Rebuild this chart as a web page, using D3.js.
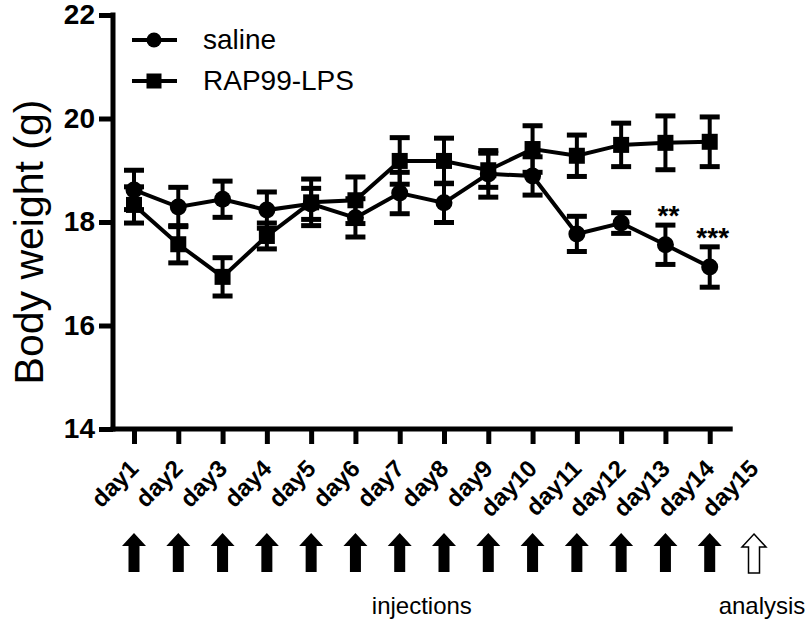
<!DOCTYPE html>
<html>
<head>
<meta charset="utf-8">
<script src="https://cdn.jsdelivr.net/npm/d3@7"></script>
<style>
  body { margin: 0; background: #fff; }
  svg { display: block; font-family: "Liberation Sans", Arial, Helvetica, sans-serif; }
</style>
</head>
<body>
<div id="chart"></div>
<script>
// Chart data
let days = ["day1", "day2", "day3", "day4", "day5", "day6", "day7", "day8",
    "day9", "day10", "day11", "day12", "day13", "day14", "day15"];
let injectionDays = [1, 2, 3, 4, 5, 6, 7, 8, 9, 10, 11, 12, 13, 14];
let analysisDay = 15;

let salineMean = [18.62, 18.29, 18.44, 18.23, 18.35, 18.08, 18.56, 18.37, 18.93, 18.89, 17.77, 17.98, 17.56, 17.13];
let salineErr = [0.38, 0.38, 0.35, 0.35, 0.30, 0.37, 0.40, 0.38, 0.45, 0.37, 0.34, 0.20, 0.38, 0.39];
let rapMean = [18.33, 17.57, 16.94, 17.73, 18.38, 18.42, 19.18, 19.18, 19.00, 19.41, 19.28, 19.49, 19.53, 19.55];
let rapErr = [0.35, 0.36, 0.37, 0.25, 0.45, 0.45, 0.45, 0.44, 0.33, 0.45, 0.40, 0.42, 0.52, 0.48];

let yTicks = [14, 16, 18, 20, 22];
let stars = [{ day: 13, text: "**" }, { day: 14, text: "***" }];

let seriesNames = ["saline", "RAP99-LPS"];

// build the series from the arrays above
let series = [
    { name: seriesNames[0], shape: "circle", values: salineMean.map(function (m, i) { return { day: i + 1, mean: m, err: salineErr[i] }; }) },
    { name: seriesNames[1], shape: "square", values: rapMean.map(function (m, i) { return { day: i + 1, mean: m, err: rapErr[i] }; }) }
];

// Set up the SVG canvas
let width = 812;
let height = 629;

let svg = d3.select("#chart").append("svg")
    .attr("width", width)
    .attr("height", height);

let x = d3.scaleLinear().domain([1, 15]).range([134, 754]);
let y = d3.scaleLinear().domain([14, 22]).range([429, 15]);
let axisLeftX = 113;

// y axis
let yAxis = svg.append("g")
    .attr("transform", "translate(" + axisLeftX + ",0)")
    .call(d3.axisLeft(y).tickValues(yTicks).tickSize(14).tickPadding(4).tickFormat(d3.format("d")));
yAxis.select(".domain").remove();
yAxis.selectAll(".tick line").attr("stroke", "#000").attr("stroke-width", 5);
yAxis.selectAll(".tick text")
    .attr("fill", "#000")
    .style("font-size", "28px")
    .style("font-weight", "bold");

// x axis (ticks only for the injection days)
let xAxis = svg.append("g")
    .attr("transform", "translate(0," + y(14) + ")")
    .call(d3.axisBottom(x).tickValues(injectionDays).tickSize(15).tickFormat(""));
xAxis.select(".domain").remove();
xAxis.selectAll(".tick line").attr("stroke", "#000").attr("stroke-width", 5);

// axis lines
svg.append("line")
    .attr("x1", axisLeftX).attr("x2", axisLeftX)
    .attr("y1", y(22) - 2.5).attr("y2", y(14) + 2.5)
    .attr("stroke", "#000").attr("stroke-width", 5);
svg.append("line")
    .attr("x1", axisLeftX - 2.5).attr("x2", x(14) + 23)
    .attr("y1", y(14)).attr("y2", y(14))
    .attr("stroke", "#000").attr("stroke-width", 5);

// rotated day labels
let labelY = 470;
svg.append("g")
    .attr("class", "day-labels")
    .selectAll("text")
    .data(days)
    .enter()
    .append("text")
    .attr("x", function (d, i) { return x(i + 1) + 6; })
    .attr("y", labelY)
    .attr("transform", function (d, i) { return "rotate(-45," + (x(i + 1) + 6) + "," + labelY + ")"; })
    .attr("text-anchor", "end")
    .attr("fill", "#000")
    .style("font-size", "24px")
    .style("font-weight", "bold")
    .text(function (d) { return d; });

// y label
svg.append("text")
    .attr("transform", "translate(43,242) rotate(-90)")
    .attr("text-anchor", "middle")
    .style("font-size", "41px")
    .text("Body weight (g)");

// series
let line = d3.line()
    .x(function (d) { return x(d.day); })
    .y(function (d) { return y(d.mean); });

function drawMarker(sel, shape, size) {
    if (shape === "circle") {
        sel.append("circle").attr("r", size / 2).attr("fill", "#000");
    } else {
        sel.append("rect")
            .attr("x", -size / 2).attr("y", -size / 2)
            .attr("width", size).attr("height", size)
            .attr("fill", "#000");
    }
}

series.forEach(function (s) {
    let g = svg.append("g").attr("class", "series");

    g.append("path")
        .datum(s.values)
        .attr("d", line)
        .attr("fill", "none")
        .attr("stroke", "#000")
        .attr("stroke-width", 4);

    let bars = g.selectAll(".err")
        .data(s.values)
        .enter()
        .append("g")
        .attr("class", "err");
    bars.append("line")
        .attr("x1", function (d) { return x(d.day); })
        .attr("x2", function (d) { return x(d.day); })
        .attr("y1", function (d) { return y(d.mean + d.err); })
        .attr("y2", function (d) { return y(d.mean - d.err); })
        .attr("stroke", "#000").attr("stroke-width", 4);
    [1, -1].forEach(function (sign) {
        bars.append("line")
            .attr("x1", function (d) { return x(d.day) - 10; })
            .attr("x2", function (d) { return x(d.day) + 10; })
            .attr("y1", function (d) { return y(d.mean + sign * d.err); })
            .attr("y2", function (d) { return y(d.mean + sign * d.err); })
            .attr("stroke", "#000").attr("stroke-width", 5);
    });

    g.selectAll(".marker")
        .data(s.values)
        .enter()
        .append("g")
        .attr("class", "marker")
        .attr("transform", function (d) { return "translate(" + x(d.day) + "," + y(d.mean) + ")"; })
        .each(function () { drawMarker(d3.select(this), s.shape, s.shape === "circle" ? 17 : 16); });
});

// significance stars above the saline bars
svg.append("g")
    .selectAll("text")
    .data(stars)
    .enter()
    .append("text")
    .attr("x", function (d) { return x(d.day) + 3; })
    .attr("y", function (d) { return y(salineMean[d.day - 1] + salineErr[d.day - 1]); })
    .attr("text-anchor", "middle")
    .style("font-size", "28px")
    .style("font-weight", "bold")
    .text(function (d) { return d.text; });

// legend
let legend = svg.append("g");
series.forEach(function (s, i) {
    let row = legend.append("g").attr("transform", "translate(0," + (40 + i * 41) + ")");
    row.append("line")
        .attr("x1", 132).attr("x2", 177)
        .attr("stroke", "#000").attr("stroke-width", 4);
    let m = row.append("g").attr("transform", "translate(154,0)");
    drawMarker(m, s.shape, 15);
    row.append("text")
        .attr("x", 203).attr("y", 9)
        .style("font-size", "28px")
        .text(s.name);
});

// injection arrows
function arrowPath() {
    let p = d3.path();
    p.moveTo(0, 0);
    p.lineTo(12, 13);
    p.lineTo(5.5, 13);
    p.lineTo(5.5, 39);
    p.lineTo(-5.5, 39);
    p.lineTo(-5.5, 13);
    p.lineTo(-12, 13);
    p.closePath();
    return p.toString();
}

svg.append("g")
    .selectAll("path")
    .data(injectionDays)
    .enter()
    .append("path")
    .attr("transform", function (d) { return "translate(" + x(d) + ",533)"; })
    .attr("d", arrowPath())
    .attr("fill", "#000");

svg.append("path")
    .attr("transform", "translate(" + x(analysisDay) + ",534)")
    .attr("d", arrowPath())
    .attr("fill", "#fff")
    .attr("stroke", "#000")
    .attr("stroke-width", 1.5);

svg.append("text")
    .attr("x", x((injectionDays[0] + injectionDays[injectionDays.length - 1]) / 2))
    .attr("y", 614)
    .attr("text-anchor", "middle")
    .style("font-size", "24px")
    .text("injections");

svg.append("text")
    .attr("x", x(analysisDay) + 8)
    .attr("y", 614)
    .attr("text-anchor", "middle")
    .style("font-size", "24px")
    .text("analysis");
</script>
</body>
</html>
